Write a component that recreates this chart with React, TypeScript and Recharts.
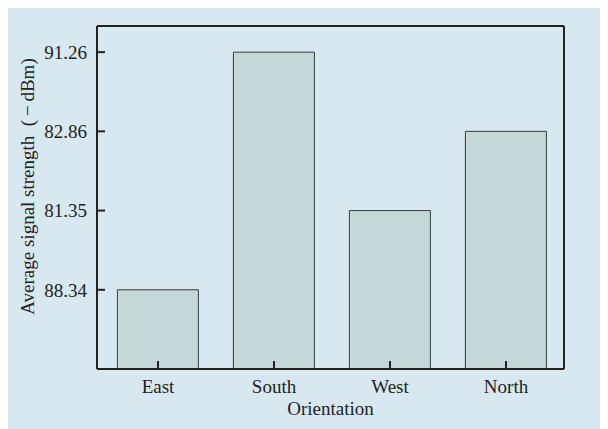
import React from 'react'
import { BarChart, Bar, XAxis, YAxis, Label } from 'recharts'

const orientations = ['East', 'South', 'West', 'North']
// bar heights are the tick index each bar reaches
const barLevels = [1, 4, 2, 3]
const tickLevels = [1, 2, 3, 4]
const tickLabels = ['88.34', '81.35', '82.86', '91.26']

const data = orientations.map((name, i) => ({ name, level: barLevels[i] }))

const font = 'Liberation Serif, Times New Roman, serif'
const ink = '#222'
const fontSize = 19

const YTitle = (props: any) => {
  const vb = props.viewBox || {}
  const x = 19
  const y = vb.y + vb.height / 2 - 11
  return (
    <text
      x={x}
      y={y}
      transform={`rotate(-90, ${x}, ${y})`}
      textAnchor="middle"
      dominantBaseline="central"
      fontFamily={font}
      fontSize={fontSize}
      fill={ink}
    >
      {'Average signal strength\u00a0 (\u2009\u2212\u2009dBm)'}
    </text>
  )
}

const App: React.FC = () => {
  return (
    <div style={{ marginTop: -4, width: 600, height: 425, background: '#d8e8f0' }}>
      <BarChart
        width={600}
        height={425}
        data={data}
        margin={{ top: 21, right: 43, bottom: 0, left: 0 }}
        barCategoryGap="15%"
      >
        <XAxis
          dataKey="name"
          height={60}
          padding={{ left: 3, right: 0 }}
          axisLine={{ stroke: ink, strokeWidth: 2 }}
          tickLine={{ stroke: ink, strokeWidth: 2 }}
          tickSize={-8}
          tickMargin={19}
          tick={{ fill: ink, fontFamily: font, fontSize }}
        >
          <Label
            value="Orientation"
            position="insideBottom"
            offset={14}
            fill={ink}
            fontFamily={font}
            fontSize={fontSize}
          />
        </XAxis>
        <XAxis
          xAxisId="top"
          orientation="top"
          dataKey="name"
          height={1}
          tick={false}
          tickLine={false}
          axisLine={{ stroke: ink, strokeWidth: 2 }}
        />
        <YAxis
          width={89}
          domain={[0, 4.33]}
          ticks={tickLevels}
          allowDataOverflow
          axisLine={{ stroke: ink, strokeWidth: 2 }}
          tickLine={{ stroke: ink, strokeWidth: 2 }}
          tickSize={-8}
          tickMargin={18}
          tickFormatter={(v: number) => tickLabels[tickLevels.indexOf(v)] ?? ''}
          tick={{ fill: ink, fontFamily: font, fontSize }}
        >
          <Label content={<YTitle />} />
        </YAxis>
        <YAxis
          yAxisId="right"
          orientation="right"
          width={1}
          domain={[0, 4.33]}
          tick={false}
          tickLine={false}
          axisLine={{ stroke: ink, strokeWidth: 2 }}
        />
        <Bar
          dataKey="level"
          fill="#c4d9d7"
          stroke="#3a3a3a"
          strokeWidth={1}
          isAnimationActive={false}
        />
      </BarChart>
    </div>
  )
}

export default App
